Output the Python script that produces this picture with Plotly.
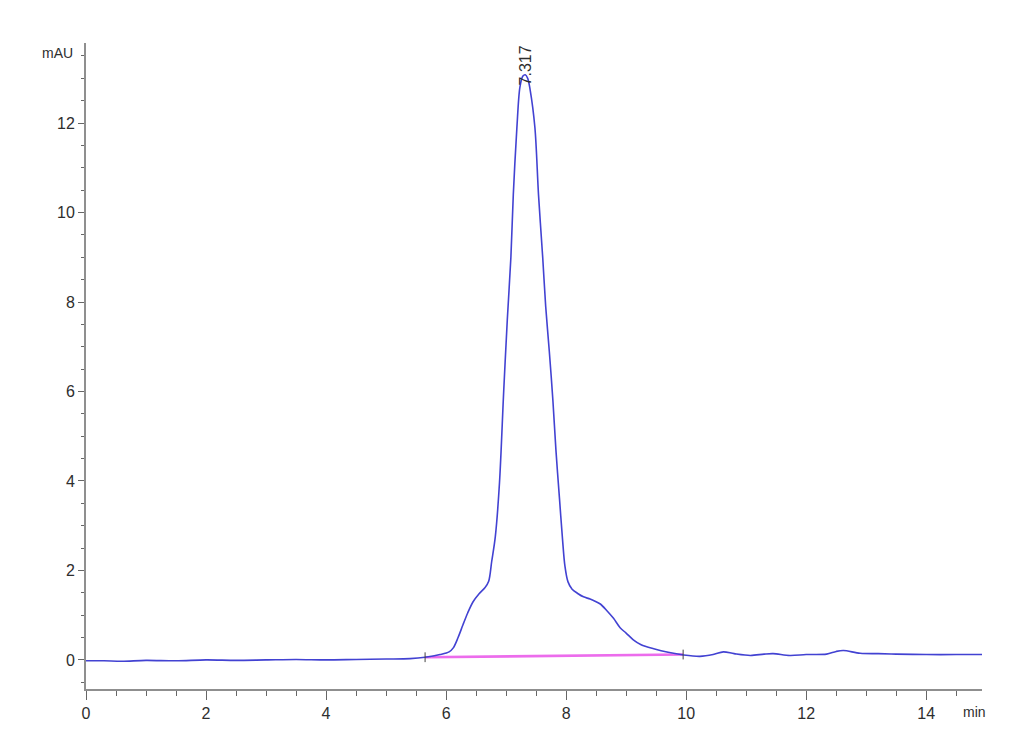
import plotly.graph_objects as go

# Chromatogram trace (time in min, signal in mAU)
time_min = [0.0, 0.3, 0.6, 1.0, 1.5, 2.0, 2.5, 3.0, 3.5, 4.0, 4.5, 5.0, 5.4, 5.65,
            5.9, 6.05, 6.12, 6.20, 6.28, 6.36, 6.45, 6.55, 6.65, 6.71, 6.76, 6.82, 6.89,
            6.96, 7.02, 7.08, 7.12, 7.18, 7.23, 7.28, 7.32, 7.36, 7.40, 7.48, 7.54,
            7.61, 7.66, 7.72, 7.78, 7.83, 7.89, 7.94, 7.98, 8.03, 8.10, 8.20, 8.29,
            8.40, 8.50, 8.57, 8.68, 8.79, 8.90, 9.00, 9.12, 9.25, 9.46, 9.70, 9.96,
            10.23, 10.45, 10.62, 10.80, 11.07, 11.30, 11.45, 11.73, 12.00, 12.34,
            12.50, 12.62, 12.90, 13.20, 13.50, 14.00, 14.50, 14.93]
signal_mau = [-0.02, -0.02, -0.03, -0.01, -0.02, 0.0, -0.01, 0.0, 0.01, 0.0, 0.01, 0.02,
              0.03, 0.06, 0.12, 0.18, 0.27, 0.50, 0.78, 1.05, 1.30, 1.48, 1.62, 1.76,
              2.20, 2.75, 3.96, 6.00, 7.60, 9.00, 10.40, 11.90, 12.80, 13.05, 13.08,
              13.00, 12.75, 11.90, 10.40, 9.00, 7.90, 6.90, 5.80, 4.70, 3.60, 2.70,
              2.10, 1.75, 1.58, 1.48, 1.41, 1.36, 1.30, 1.25, 1.10, 0.93, 0.72, 0.60,
              0.45, 0.34, 0.25, 0.17, 0.11, 0.08, 0.12, 0.18, 0.14, 0.10, 0.13, 0.14,
              0.10, 0.12, 0.13, 0.19, 0.21, 0.15, 0.14, 0.13, 0.12, 0.12, 0.12]

# Integration baseline (start / end)
baseline_time = [5.65, 9.95]
baseline_mau = [0.06, 0.12]

# Peak label
peak_time = 7.317
peak_label = "7.317"
peak_label_y = 12.8

x_ticks = [0, 2, 4, 6, 8, 10, 12, 14]
y_ticks = [0, 2, 4, 6, 8, 10, 12]

FONT = "Liberation Sans Narrow, Arial Narrow, Liberation Sans, Arial, sans-serif"
AXIS_COLOR = "#8f8f8f"
TEXT_COLOR = "#2e2e2e"

fig = go.Figure()

fig.add_trace(go.Scatter(
    x=baseline_time, y=baseline_mau, mode="lines",
    line=dict(color="#ec6cec", width=2.6), hoverinfo="skip", showlegend=False))

fig.add_trace(go.Scatter(
    x=time_min, y=signal_mau, mode="lines", line_shape="spline",
    line=dict(color="#4242d2", width=1.6, smoothing=0.9), showlegend=False))

fig.add_trace(go.Scatter(
    x=baseline_time, y=baseline_mau, mode="markers",
    marker=dict(symbol="line-ns", size=7, line=dict(color="#444", width=1)),
    hoverinfo="skip", showlegend=False))

fig.add_annotation(
    x=peak_time, y=peak_label_y, xref="x", yref="y", text=peak_label,
    textangle=-90, showarrow=False, xanchor="center", yanchor="bottom",
    font=dict(family=FONT, size=16, color=TEXT_COLOR))

fig.add_annotation(
    x=-0.012, y=0.985, xref="paper", yref="paper", text="mAU", showarrow=False,
    xanchor="right", yanchor="middle", font=dict(family=FONT, size=14, color=TEXT_COLOR))

fig.add_annotation(
    x=0.992, y=-0.036, xref="paper", yref="paper", text="min", showarrow=False,
    xanchor="center", yanchor="middle", font=dict(family=FONT, size=14, color=TEXT_COLOR))

fig.update_layout(
    width=1030, height=755,
    margin=dict(l=78, r=56, t=35, b=74),
    paper_bgcolor="white", plot_bgcolor="white",
    font=dict(family=FONT, size=16, color=TEXT_COLOR),
    xaxis=dict(
        range=[0, 14.93], tickvals=x_ticks, ticktext=[str(v) for v in x_ticks],
        showgrid=False, zeroline=False, showline=True, linecolor=AXIS_COLOR, linewidth=2,
        ticks="outside", ticklen=9, tickwidth=1, tickcolor="#666",
        minor=dict(dtick=0.5, tick0=0, ticks="outside", ticklen=5, tickwidth=1, tickcolor="#666"),
    ),
    yaxis=dict(
        range=[-0.65, 13.79], tickvals=y_ticks, ticktext=[str(v) for v in y_ticks],
        showgrid=False, zeroline=False, showline=True, linecolor=AXIS_COLOR, linewidth=2,
        ticks="outside", ticklen=6, tickwidth=1, tickcolor="#666",
        minor=dict(dtick=0.5, tick0=0, ticks="outside", ticklen=3, tickwidth=1, tickcolor="#666"),
    ),
)

fig.write_html("out.html")
